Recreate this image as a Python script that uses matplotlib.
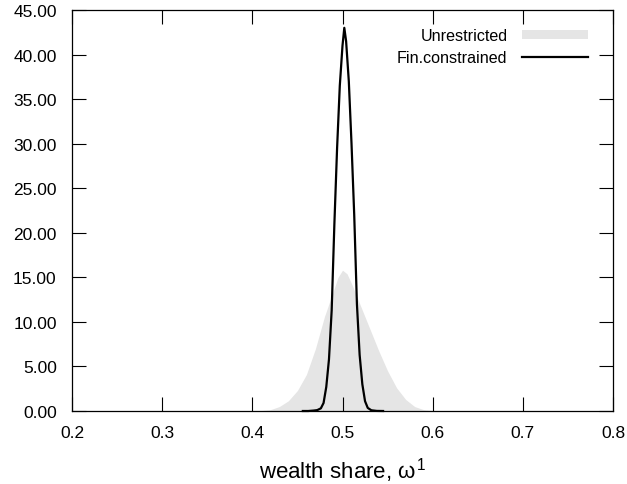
import matplotlib
matplotlib.use("Agg")
import matplotlib.pyplot as plt
from matplotlib.patches import Patch
from matplotlib.lines import Line2D

plt.rcParams['font.family'] = ['Liberation Sans', 'DejaVu Sans']
plt.rcParams['mathtext.fontset'] = 'custom'
plt.rcParams['mathtext.rm'] = 'Liberation Sans'
plt.rcParams['mathtext.it'] = 'Liberation Sans'

# Unrestricted (grey filled density)
grey_x = [0.410, 0.420, 0.430, 0.440, 0.450, 0.460, 0.470, 0.480, 0.490, 0.495,
          0.500, 0.505, 0.510, 0.520, 0.530, 0.540, 0.550, 0.560, 0.570, 0.580,
          0.590, 0.600]
grey_y = [0.05, 0.15, 0.5, 1.15, 2.3, 4.1, 7.0, 10.6, 13.5, 15.0,
          15.8, 15.4, 14.3, 11.8, 9.3, 6.8, 4.5, 2.6, 1.3, 0.5,
          0.15, 0.05]

# Fin.constrained (black line density)
black_x = [0.456, 0.462, 0.468, 0.472, 0.476, 0.479, 0.482, 0.485, 0.488, 0.491,
           0.494, 0.497, 0.500, 0.502, 0.504, 0.507, 0.510, 0.513, 0.516, 0.519,
           0.522, 0.525, 0.528, 0.532, 0.538, 0.545]
black_y = [0.0, 0.0, 0.05, 0.1, 0.3, 0.9, 2.7, 5.8, 11.3, 21.0,
           29.5, 36.5, 41.0, 43.0, 41.5, 37.0, 30.0, 22.0, 12.0, 6.3,
           3.0, 1.1, 0.35, 0.08, 0.01, 0.0]

xticks = [0.2, 0.3, 0.4, 0.5, 0.6, 0.7, 0.8]
yticks = [0, 5, 10, 15, 20, 25, 30, 35, 40, 45]
grey_color = '#e5e5e5'

fig = plt.figure(figsize=(6.27, 4.85), dpi=100)
ax = fig.add_axes([72/627, 1-412/485, (613-72)/627, (412-11)/485])

ax.fill_between(grey_x, grey_y, 0, color=grey_color, linewidth=0, zorder=1)
ax.plot(black_x, black_y, color='black', linewidth=1.6, zorder=3, clip_on=False)

ax.set_xlim(0.2, 0.8)
ax.set_ylim(0, 45)
ax.set_xticks(xticks)
ax.set_xticklabels([f"{v:.1f}" for v in xticks])
ax.set_yticks(yticks)
ax.set_yticklabels([f"{v:.2f}" for v in yticks])
ax.tick_params(direction='in', length=10, width=0.8, top=True, right=True,
               labelsize=12.5, colors='black')
ax.tick_params(axis='x', pad=10)
ax.tick_params(axis='y', pad=11)
for s in ax.spines.values():
    s.set_linewidth(0.9)

ax.set_xlabel('wealth share, $\\omega^1$', fontsize=16, labelpad=11)

handles = [Patch(facecolor=grey_color, edgecolor='none'),
           Line2D([], [], color='black', linewidth=1.6)]
leg = ax.legend(handles, ['Unrestricted', 'Fin.constrained'], loc='upper right',
                bbox_to_anchor=(1 - 25/541, 1 - 18/401), borderaxespad=0,
                frameon=False, markerfirst=False, fontsize=11.6,
                handlelength=4.1, handleheight=0.5, handletextpad=0.9,
                labelspacing=0.42, borderpad=0)

fig.savefig('out.png', dpi=100)
